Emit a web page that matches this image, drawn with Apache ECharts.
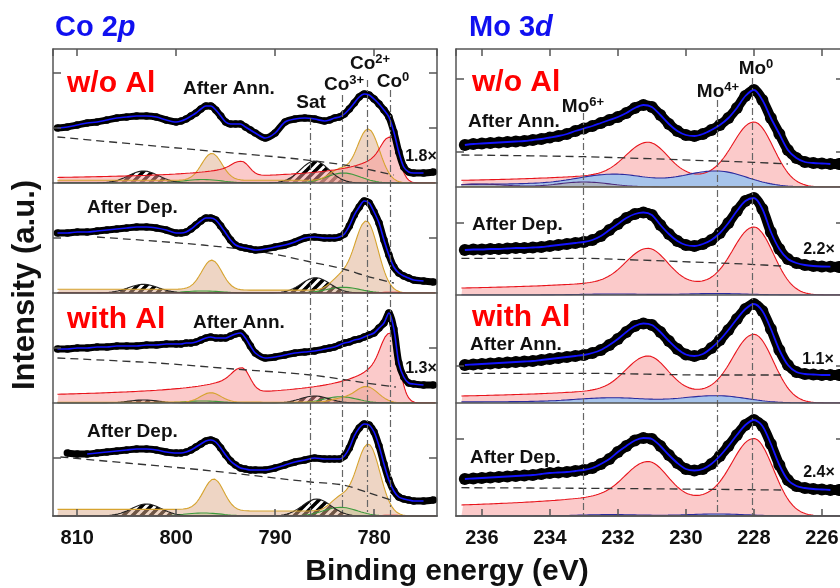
<!DOCTYPE html>
<html>
<head>
<meta charset="utf-8">
<title>XPS Co 2p / Mo 3d</title>
<script src="https://cdn.jsdelivr.net/npm/echarts@6.0.0/dist/echarts.min.js"></script>
<style>
  html, body { margin: 0; padding: 0; background: #fff; }
  #chart { width: 840px; height: 588px; }
</style>
</head>
<body>
<div id="chart"></div>
<script>

// Co 2p: binding energies (eV) where the measured points were read
var coEnergy = [812, 811, 810, 809, 808, 807, 806, 805, 804, 803, 802, 801, 800,
  799.5, 799, 798.5, 798, 797.5, 797, 796.5, 796, 795.5, 795, 794.5, 794, 793.5, 793, 792.5, 792,
  791, 790, 789, 788, 787, 786, 785,
  784.5, 784, 783.5, 783, 782.5, 782, 781.5, 781, 780.5, 780, 779.5, 779, 778.5, 778, 777.5, 777, 776.5, 776,
  775, 774];
var coNoAlAnn = [55, 56, 58, 60, 61, 63, 65, 66, 67, 67, 66, 63, 61,
  62, 64, 67, 70, 74, 77, 77, 73, 67, 61, 59, 59, 59, 56, 53, 50,
  45, 50, 61, 64, 65, 64, 62,
  63, 65, 66, 69, 74, 80, 86, 89, 88, 84, 79, 73, 66, 51, 31, 16, 11, 10,
  10, 11];
var coNoAlDep = [60, 60, 61, 61, 62, 63, 64, 65, 66, 66, 65, 63, 60,
  60, 61, 64, 68, 72, 75, 75, 73, 67, 60, 53, 48, 46, 45, 44, 43,
  44, 46, 48, 51, 55, 56, 55,
  55, 55, 56, 59, 67, 78, 86, 92, 90, 81, 70, 53, 38, 26, 20, 17, 15, 13,
  12, 11];
var coAlAnn = [54, 54, 55, 55, 56, 56, 57, 57, 57, 58, 58, 59, 59,
  59, 60, 60, 61, 63, 65, 66, 65, 65, 65, 67, 69, 70, 65, 57, 50,
  45, 46, 48, 50, 51, 52, 54,
  55, 56, 58, 60, 61, 63, 64, 66, 68, 70, 75, 80, 90, 74, 40, 26, 20, 19,
  18, 18];
var coAlDep = [null, 63, 62, 62, 63, 64, 65, 66, 67, 67, 66, 64, 63,
  63, 64, 66, 69, 72, 75, 76, 74, 68, 61, 55, 51, 48, 47, 46, 46,
  46, 48, 51, 54, 56, 58, 57,
  57, 57, 57, 60, 68, 80, 88, 92, 91, 84, 70, 52, 36, 25, 19, 17, 16, 15,
  15, 16];

// Co 2p fit components, per trace: [centre eV, height, FWHM, tail, tailScale, tailPower]
var coGreenPeaks = [
  [[797.3, 3.5, 4.5], [783.1, 10, 4.0]],
  [[797.3, 2, 4.5], [783.1, 5.7, 4.0]],
  [[797.3, 2, 4.5], [783.4, 6.3, 4.0]],
  [[797.3, 3, 4.5], [783.4, 8.7, 4.0]]
];
var coSatPeaks = [
  [[803.3, 12, 3.6], [786.0, 22, 3.4]],
  [[803.3, 8.7, 3.6], [785.9, 15.3, 3.4]],
  [[803.3, 3, 3.6], [786.0, 7, 3.4]],
  [[803.0, 12, 3.6], [785.8, 17, 3.4]]
];
var coCo2Peaks = [
  [[796.4, 27, 2.4], [783.6, 10, 2.2], [780.6, 54, 2.7, 0.05, 1, 0]],
  [[796.4, 30, 2.4, 0.03, 1, 0], [783.5, 11, 2.2], [780.8, 72, 2.8, 0.04, 1, 0]],
  [[796.5, 9.5, 2.4], [783.5, 3, 2.2], [780.8, 16.5, 2.8, 0.05, 1, 0]],
  [[796.2, 32, 2.4, 0.05, 1, 0], [783.5, 12, 2.2], [780.6, 72, 2.8, 0.07, 1, 0]]
];
var coCo0Peaks = [
  [[793.4, 15, 1.8, 1, 1.5, 0.8], [778.3, 46, 1.8, 1, 1.5, 0.8]],
  [[778.3, 0.8, 1.8]],
  [[793.35, 25, 1.85, 1, 1.5, 0.8], [778.3, 70, 1.85, 1, 1.5, 0.8]],
  [[778.3, 0.8, 1.8]]
];
// Shirley backgrounds (dashed), [eV, value]
var coBackground = [
  [[812.0, 46], [797.7, 33], [787.7, 24], [782.4, 17], [778.0, 8]],
  [[808.0, 56], [797.3, 48], [790.7, 40], [786.4, 31], [783.1, 24], [780.8, 17], [778.0, 10]],
  [[812.0, 45], [801.9, 40], [794.2, 34], [786.4, 28], [780.8, 20], [777.8, 16]],
  [[811.7, 59], [805.0, 53], [797.3, 46], [786.4, 34], [783.1, 31], [780.8, 24], [778.0, 15]]
];
var coRefEnergy = [786.49, 783.19, 780.7, 778.34];

// Mo 3d
var moEnergy = [236.5, 236.25, 236, 235.75, 235.5, 235.25, 235, 234.75, 234.5, 234.25, 234, 233.75,
  233.5, 233.25, 233, 232.75, 232.5, 232.25, 232, 231.75, 231.5, 231.25, 231, 230.75, 230.5, 230.25,
  230, 229.75, 229.5, 229.25, 229, 228.75, 228.5, 228.25, 228, 227.75, 227.5, 227.25, 227, 226.75,
  226.5, 226.25, 226, 225.75, 225.5];
var moNoAlAnn = [42, 43, 43.5, 44, 44.5, 45, 45.5, 46, 47, 48, 49.5, 51, 53, 56, 58.5, 61, 64, 67, 70, 74,
  79, 82, 80, 72, 63, 56, 52, 51, 53, 57, 62, 69, 79, 91, 97, 87, 69, 53, 37, 29, 25, 24, 23.5, 23, 23];
var moNoAlDep = [45, 45.5, 45.5, 46, 46, 46.5, 47, 47, 47.5, 48, 49, 50, 51, 52, 53, 55, 59, 65, 71, 77,
  81, 82.5, 80, 70, 61, 54, 50, 49, 51, 55, 62, 72, 84, 94, 97, 86, 63, 46, 36, 32, 30, 29, 28.5, 28.3, 28];
var moAlAnn = [38, 38.5, 39, 39.5, 40, 40.5, 41, 41.5, 42, 43, 44, 45, 46, 47, 48, 50, 53, 58, 64, 71,
  77, 79.5, 78, 71, 62, 54, 48.5, 47, 49, 55, 63, 73, 84, 94, 99, 92, 74, 53, 38, 31, 29, 28.5, 28, 28, 28];
var moAlDep = [37, 37.5, 38, 38.5, 39, 39.5, 40, 40.5, 41, 42, 43, 43.5, 44, 45, 46, 48, 52, 57, 64, 70,
  75.5, 78, 77, 70, 61, 53, 47, 45.5, 47, 52, 60, 70, 81, 91, 96, 90, 72, 51, 36, 30, 28, 27, 26.5, 26, 26];

var moMo0Peaks = [
  [[231.13, 37.5, 1.4, 0.35, 1, 0.8], [228.0, 65, 1.35, 0.35, 1, 0.8]],
  [[231.13, 39, 1.4, 0.35, 1, 0.8], [228.0, 68, 1.35, 0.35, 1, 0.8]],
  [[231.13, 39.3, 1.4, 0.35, 1, 0.8], [228.0, 68.7, 1.35, 0.35, 1, 0.8]],
  [[231.13, 42, 1.4, 0.5, 1, 0.8], [228.0, 77.5, 1.35, 0.5, 1, 0.8]]
];
var moMo4Peaks = [
  [[232.15, 10.5, 2.2, 0.45, 1, 0.8], [229.1, 16, 2.1, 0.45, 1, 0.8]],
  [[232.15, 1, 2.2], [229.1, 1.5, 2.1]],
  [[232.2, 4.2, 2.2, 0.45, 1, 0.8], [229.1, 7.3, 2.1, 0.45, 1, 0.8]],
  [[232.2, 1.4, 2.2], [229.1, 2, 2.1]]
];
var moMo6Peaks = [
  [[236.1, 3, 1.8], [233.0, 5, 1.8]],
  null, null, null
];
var moOtherPeaks = [[], null, null, null];
var moBackground = [
  [[236.6, 32], [233.0, 30.3], [229.1, 26], [228.0, 24.7], [227.0, 23]],
  [[236.6, 36.7], [233.0, 36.7], [232.0, 35.7], [229.3, 32.3], [228.1, 30.7], [227.2, 29]],
  [[236.6, 29.7], [233.0, 29.7], [229.3, 28], [227.2, 28]],
  [[236.6, 28.3], [233.0, 27.7], [229.3, 26.7], [227.2, 26]]
];
var moRefEnergy = [233.01, 229.07, 228.05];

// ---- drawing ----
var FONT = '"Liberation Sans", Arial, Helvetica, sans-serif';
var AXIS_COLOR = '#555';

// black/white diagonal hatch used for the Co satellites
var hatch = (function () {
    var n = 9;
    var c = document.createElement('canvas');
    c.width = n; c.height = n;
    var g = c.getContext('2d');
    g.fillStyle = '#fff';
    g.fillRect(0, 0, n, n);
    g.strokeStyle = '#000';
    g.lineWidth = 3.6;
    g.beginPath();
    g.moveTo(-1, n + 1); g.lineTo(n + 1, -1);
    g.moveTo(-1, 1); g.lineTo(1, -1);
    g.moveTo(n - 1, n + 1); g.lineTo(n + 1, n - 1);
    g.stroke();
    return c;
})();

function peakValue(E, pk) {
    var c = pk[0], h = pk[1], w = pk[2];
    var a = pk[3] || 0, tau = pk[4] || 1, pw = pk[5] || 0;
    var g = Math.exp(-4 * Math.LN2 * Math.pow((E - c) / w, 2));
    if (E <= c || !a) return h * g;
    var t = a * Math.pow(1 + (E - c) / tau, -pw);
    return h * (g + (1 - g) * t);
}
function componentCurve(peaks, lo, hi, step) {
    var out = [];
    var n = Math.round((hi - lo) / step);
    for (var i = 0; i <= n; i++) {
        var E = lo + i * step, s = 0;
        for (var k = 0; k < peaks.length; k++) s += peakValue(E, peaks[k]);
        out.push([E, s]);
    }
    return out;
}
function pairs(energy, vals, lo, hi) {
    var out = [];
    for (var i = 0; i < energy.length; i++) {
        if (vals[i] == null || energy[i] < lo || energy[i] > hi) continue;
        out.push([energy[i], vals[i]]);
    }
    return out;
}

var panels = [
    {
        left: 53, width: 384, top: 49, height: 467, xMin: 773.64, xMax: 812.45,
        bands: [[49, 134], [183, 110], [293, 110], [403, 113]],
        ticks: [[55, 110], [55], [55], [58]],
        energy: coEnergy, spectra: [coNoAlAnn, coNoAlDep, coAlAnn, coAlDep],
        background: coBackground,
        components: [
            {peaks: coGreenPeaks, line: '#3c9a3c', fill: 'rgba(150,210,140,0.45)'},
            {peaks: coSatPeaks, line: '#222', fill: {image: hatch, repeat: 'repeat'}},
            {peaks: coCo2Peaks, line: '#d6a32e', fill: 'rgba(222,172,138,0.5)'},
            {peaks: coCo0Peaks, line: '#e8141c', fill: 'rgba(248,150,150,0.5)'}
        ],
        compRange: [773.8, 812.0], step: 0.1,
        fitRange: [[775, 812], [775, 812], [775, 812], [775, 809]],
        dotLine: 7, dotSize: 7.5, fitWidth: 1.6,
        refs: coRefEnergy, refTops: [398, 421, 436, 426]
    },
    {
        left: 456, width: 388, top: 49, height: 467, xMin: 225.35, xMax: 236.76,
        bands: [[49, 138], [187, 108], [295, 108], [403, 113]],
        ticks: [[35, 108], [72], [37], [77]],
        energy: moEnergy, spectra: [moNoAlAnn, moNoAlDep, moAlAnn, moAlDep],
        background: moBackground,
        components: [
            {peaks: moMo0Peaks, line: '#e8141c', fill: 'rgba(248,150,150,0.5)'},
            {peaks: moMo4Peaks, line: '#2b2b9e', fill: 'rgba(160,195,238,0.92)'},
            {peaks: moMo6Peaks, line: '#4b2a7a', fill: 'rgba(175,175,180,0.7)'},
            {peaks: moOtherPeaks, line: '#d6a32e', fill: null}
        ],
        compRange: [225.35, 236.6], step: 0.025,
        fitRange: [[225.75, 236.5], [225.75, 236.5], [225.75, 236.5], [225.75, 236.5]],
        dotLine: 10, dotSize: 12, fitWidth: 1.8,
        refs: moRefEnergy, refTops: [403, 416, 438]
    }
];

var grids = [], xAxes = [], yAxes = [], series = [];
var lineAxis = {show: true, onZero: false, lineStyle: {color: AXIS_COLOR, width: 1.5}};

panels.forEach(function (p) {
    // frame, energy axis, reference lines
    grids.push({left: p.left, top: p.top, width: p.width, height: p.height, outerBoundsMode: 'none'});
    var gi = grids.length - 1;
    xAxes.push({
        gridIndex: gi, type: 'value', min: p.xMin, max: p.xMax, inverse: true, position: 'bottom', z: 6,
        axisLine: lineAxis,
        axisTick: {show: true, inside: true, length: 7, lineStyle: {color: AXIS_COLOR, width: 1.5}},
        axisLabel: {show: true, margin: 12, fontSize: 20, fontWeight: 'bold', fontFamily: FONT, color: '#111',
            showMinLabel: false, showMaxLabel: false},
        splitLine: {show: false}
    });
    var xb = xAxes.length - 1;
    xAxes.push({
        gridIndex: gi, type: 'value', min: p.xMin, max: p.xMax, inverse: true, position: 'top', z: 6,
        axisLine: lineAxis,
        axisTick: {show: true, inside: true, length: 7, lineStyle: {color: AXIS_COLOR, width: 1.5}},
        axisLabel: {show: false}, splitLine: {show: false}
    });
    ['left', 'right'].forEach(function (pos) {
        yAxes.push({gridIndex: gi, type: 'value', min: 0, max: p.height, position: pos, z: 6,
            axisLine: lineAxis, axisTick: {show: false}, axisLabel: {show: false}, splitLine: {show: false}});
    });
    var yo = yAxes.length - 2;
    series.push({
        type: 'line', xAxisIndex: xb, yAxisIndex: yo, data: [], z: 5, silent: true,
        markLine: {
            silent: true, symbol: ['none', 'none'], label: {show: false},
            lineStyle: {color: '#666', width: 1.2, type: [7, 3, 2, 3]},
            data: p.refs.map(function (e, i) { return [{coord: [e, p.refTops[i]]}, {coord: [e, 0]}]; })
        }
    });

    p.bands.forEach(function (b, bi) {
        grids.push({left: p.left, top: b[0], width: p.width, height: b[1], outerBoundsMode: 'none'});
        var g = grids.length - 1;
        xAxes.push({gridIndex: g, type: 'value', min: p.xMin, max: p.xMax, inverse: true, z: 6,
            axisLine: lineAxis, axisTick: {show: false}, axisLabel: {show: false}, splitLine: {show: false}});
        var xi = xAxes.length - 1;
        ['left', 'right'].forEach(function (pos) {
            yAxes.push({gridIndex: g, type: 'value', min: 0, max: b[1], position: pos, z: 6,
                axisLine: {show: false},
                axisTick: {show: true, inside: true, length: 8, customValues: p.ticks[bi],
                    lineStyle: {color: AXIS_COLOR, width: 1.5}},
                axisLabel: {show: false}, splitLine: {show: false}});
        });
        var yi = yAxes.length - 2;

        p.components.forEach(function (c) {
            var peaks = c.peaks[bi];
            if (!peaks) return;
            var s = {
                type: 'line', xAxisIndex: xi, yAxisIndex: yi, silent: true, z: 2,
                data: componentCurve(peaks, p.compRange[0], p.compRange[1], p.step),
                symbol: 'none', lineStyle: {color: c.line, width: 1.1}
            };
            if (c.fill) s.areaStyle = {color: c.fill, opacity: 1};
            series.push(s);
        });
        series.push({
            type: 'line', xAxisIndex: xi, yAxisIndex: yi, silent: true, z: 3,
            data: p.background[bi], symbol: 'none', smooth: 0.3,
            lineStyle: {color: '#333', width: 1.3, type: [8, 5]}
        });
        series.push({
            type: 'line', xAxisIndex: xi, yAxisIndex: yi, silent: true, z: 3,
            data: pairs(p.energy, p.spectra[bi], -1e9, 1e9),
            symbol: 'circle', symbolSize: p.dotSize, showSymbol: true, smooth: 0.3,
            itemStyle: {color: '#000'}, lineStyle: {color: '#000', width: p.dotLine}
        });
        series.push({
            type: 'line', xAxisIndex: xi, yAxisIndex: yi, silent: true, z: 4,
            data: pairs(p.energy, p.spectra[bi], p.fitRange[bi][0], p.fitRange[bi][1]),
            symbol: 'none', smooth: 0.3, lineStyle: {color: '#1414ff', width: p.fitWidth}
        });
    });
});

function txt(x, y, text, size, color, align, extra) {
    var o = {type: 'text', x: x, y: y, z: 20, silent: true,
        style: {text: text, fontSize: size, fontWeight: 'bold', fontFamily: FONT, fill: color || '#111',
            align: align || 'left', verticalAlign: 'middle',
            textAlign: align || 'left', textVerticalAlign: 'middle'}};
    if (extra) for (var k in extra) o[k] = extra[k];
    return o;
}
function supTxt(x, y, base, sup, size) {
    var o = txt(x, y, '{b|' + base + '}{s|' + sup + '}', size, '#111', 'center');
    o.style.rich = {
        b: {fontSize: size, fontWeight: 'bold', fontFamily: FONT, fill: '#111', lineHeight: size + 2, verticalAlign: 'bottom'},
        s: {fontSize: Math.round(size * 0.68), fontWeight: 'bold', fontFamily: FONT, fill: '#111',
            lineHeight: Math.round(size * 0.7), verticalAlign: 'top'}
    };
    return o;
}
function titleTxt(x, y, base, ital) {
    var o = txt(x, y, '{b|' + base + '}{i|' + ital + '}', 29, '#1010f0', 'left');
    o.style.rich = {
        b: {fontSize: 29, fontWeight: 'bold', fontFamily: FONT, fill: '#1010f0'},
        i: {fontSize: 29, fontWeight: 'bold', fontStyle: 'italic', fontFamily: FONT, fill: '#1010f0'}
    };
    return o;
}

var RED = '#ff0000';
var graphics = [
    titleTxt(55, 28, 'Co 2', 'p'),
    titleTxt(469, 28, 'Mo 3', 'd'),
    txt(25, 285, 'Intensity (a.u.)', 31, '#111', 'center', {rotation: Math.PI / 2}),
    txt(447, 572, 'Binding energy (eV)', 30, '#111', 'center'),

    txt(67, 84, 'w/o Al', 30, RED),
    txt(183, 89, 'After Ann.', 19),
    txt(311, 103, 'Sat', 19, '#111', 'center'),
    supTxt(344, 84, 'Co', '3+', 19),
    supTxt(370, 63, 'Co', '2+', 19),
    supTxt(393, 81, 'Co', '0', 19),
    txt(421, 157, '1.8×', 16, '#111', 'center'),
    txt(87, 208, 'After Dep.', 19),
    txt(67, 320, 'with Al', 30, RED),
    txt(193, 323, 'After Ann.', 19),
    txt(421, 369, '1.3×', 16, '#111', 'center'),
    txt(87, 432, 'After Dep.', 19),

    txt(472, 83, 'w/o Al', 30, RED),
    supTxt(583, 106, 'Mo', '6+', 19),
    supTxt(718, 91, 'Mo', '4+', 19),
    supTxt(756, 68, 'Mo', '0', 19),
    txt(468, 122, 'After Ann.', 19),
    txt(472, 225, 'After Dep.', 19),
    txt(819, 250, '2.2×', 16, '#111', 'center'),
    txt(472, 318, 'with Al', 30, RED),
    txt(470, 345, 'After Ann.', 19),
    txt(818, 360, '1.1×', 16, '#111', 'center'),
    txt(470, 458, 'After Dep.', 19),
    txt(819, 473, '2.4×', 16, '#111', 'center')
];

var chart = echarts.init(document.getElementById('chart'));
chart.setOption({
    animation: false,
    backgroundColor: '#fff',
    grid: grids,
    xAxis: xAxes,
    yAxis: yAxes,
    series: series,
    graphic: graphics
});
</script>
</body>
</html>
